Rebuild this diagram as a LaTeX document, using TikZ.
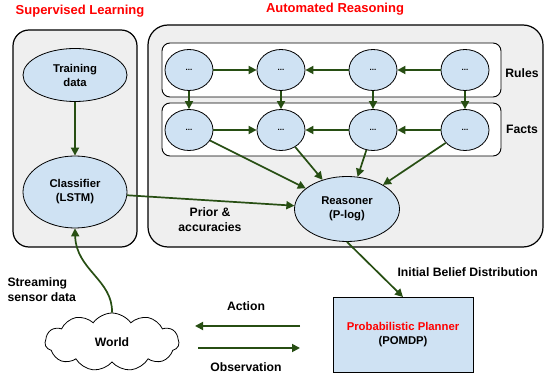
\documentclass[tikz,border=0pt]{standalone}
\usepackage{fontspec}
\setmainfont{Liberation Sans}
\usetikzlibrary{shapes, shapes.symbols, arrows.meta, positioning}
\definecolor{flowgreen}{RGB}{39,78,19}
\definecolor{nodeblue}{RGB}{207,226,243}
\definecolor{panelgrey}{RGB}{239,239,239}
\definecolor{titlered}{RGB}{255,0,0}

\begin{document}
\begin{tikzpicture}[x=1pt, y=-1pt,
    flow/.style={draw=flowgreen, line width=1.7pt, -{Triangle[length=8pt, width=8pt]}},
    belief/.style={draw, ellipse, fill=nodeblue, line width=0.8pt, align=center, inner sep=0pt,
        font=\bfseries\fontsize{11.3}{14}\selectfont},
    dotnode/.style={belief, minimum width=48, minimum height=41, font=\bfseries\fontsize{8}{9}\selectfont},
    panel/.style={draw, line width=1.2pt, fill=panelgrey, rounded corners=16pt},
    layer/.style={draw, line width=0.9pt, fill=white, rounded corners=8pt},
    title/.style={text=titlered, font=\bfseries\fontsize{13}{15}\selectfont},
    caption/.style={font=\bfseries\fontsize{12.2}{15}\selectfont, align=center}]

    \useasboundingbox (0,0) rectangle (544,379);

    % panels
    \draw[panel] (13,30) rectangle (137,247);
    \draw[panel, rounded corners=20pt] (148,25) rectangle (543,247);
    \draw[layer] (162,43) rectangle (501,97);
    \draw[layer] (162,103) rectangle (501,156);

    \node[title] (slTitle) at (80,11) {Supervised Learning};
    \node[title] (arTitle) at (335,9) {Automated Reasoning};
    \node[caption] (rulesLbl) at (522,73) {Rules};
    \node[caption] (factsLbl) at (522,129) {Facts};

    % supervised learning
    \node[belief, minimum width=104, minimum height=53] (train) at (75,75) {Training\\data};
    \node[belief, minimum width=104, minimum height=72] (classifier) at (75,192) {Classifier\\(LSTM)};

    % rules and facts
    \foreach \i/\x in {1/189, 2/281, 3/373, 4/465} {
        \node[dotnode] (R\i) at (\x,70) {...};
        \node[dotnode] (F\i) at (\x,130) {...};
        \draw[flow] (R\i) -- (F\i);
    }
    \draw[flow] (R1) -- (R2);
    \draw[flow] (R3) -- (R2);
    \draw[flow] (R4) -- (R3);
    \draw[flow] (F1) -- (F2);
    \draw[flow] (F3) -- (F2);
    \draw[flow] (F4) -- (F3);

    \node[belief, minimum width=105, minimum height=65] (reasoner) at (347,209) {Reasoner\\(P-log)};

    \draw[flow] (F1) -- (reasoner);
    \draw[flow] (F2) -- (reasoner);
    \draw[flow] (F3) -- (reasoner);
    \draw[flow] (F4) -- (reasoner);
    \draw[flow] (classifier) -- (reasoner);
    \draw[flow] (train) -- (classifier);

    \node[caption] (prior) at (210,220) {Prior \&\\accuracies};

    % planning
    \node[draw, line width=0.9pt, fill=nodeblue, minimum width=140, minimum height=75, align=center,
        font=\bfseries\fontsize{11.3}{14}\selectfont] (planner) at (403,335)
        {\textcolor{titlered}{Probabilistic Planner}\\(POMDP)};
    \draw[flow] (reasoner.south) -- (planner.north);
    \node[caption, anchor=west] (beliefLbl) at (394,272) {Initial Belief Distribution};

    \node[draw, cloud, cloud puffs=11, cloud puff arc=110, cloud ignores aspect, line width=0.8pt,
        fill=white, minimum width=134, minimum height=58, caption] (world) at (112,342) {World};

    \coordinate (actStart) at (300,326);
    \coordinate (actEnd) at (195,326);
    \coordinate (obsStart) at (198,348);
    \coordinate (obsEnd) at (300,348);
    \draw[flow] (actStart) -- (actEnd);
    \draw[flow] (obsStart) -- (obsEnd);
    \node[caption] (actLbl) at (246,306) {Action};
    \node[caption] (obsLbl) at (246,367) {Observation};

    \draw[flow] (world.north) .. controls (113,280) and (76,270) .. (classifier.south);
    \node[caption, align=left, anchor=west] (streamLbl) at (4,290) {Streaming\\sensor data};
\end{tikzpicture}
\end{document}
